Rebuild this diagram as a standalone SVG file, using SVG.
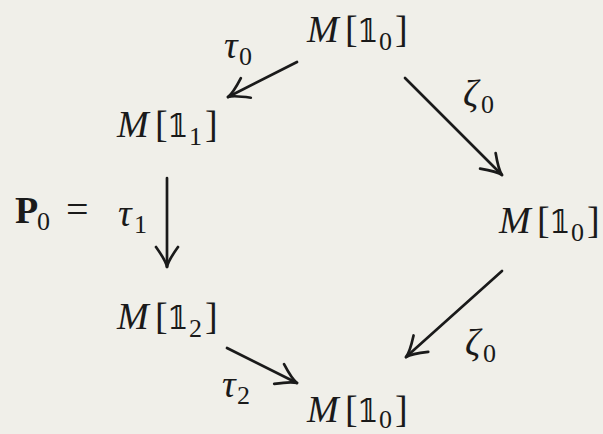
<svg xmlns="http://www.w3.org/2000/svg" width="603" height="434" viewBox="0 0 603 434">
<style>
.t{font-family:"Liberation Serif","Times New Roman","DejaVu Serif",serif;font-size:38px;fill:#1a1a1a}
.i{font-style:italic}
.ds{font-family:"DejaVu Serif","DejaVu Sans",serif;font-size:31px}
.s{font-size:26px}
.ln{stroke:#1a1a1a;stroke-width:2.7;fill:none;stroke-linecap:round}
</style>
<defs>
<marker id="ah" markerUnits="userSpaceOnUse" orient="auto" markerWidth="30" markerHeight="30" refX="0" refY="0" viewBox="-24 -15 30 30" overflow="visible">
<path d="M-20,-11 Q-6,-1 0,0 Q-6,1 -20,11" fill="none" stroke="#1a1a1a" stroke-width="2.7" stroke-linecap="round" stroke-linejoin="round"/>
</marker>
</defs>
<rect width="603" height="434" fill="#f0efe9"/>
<g id="connectors">
<line class="ln" x1="297" y1="62" x2="228" y2="97" marker-end="url(#ah)"/>
<line class="ln" x1="405" y1="78" x2="502" y2="175" marker-end="url(#ah)"/>
<line class="ln" x1="167" y1="178" x2="167" y2="267" marker-end="url(#ah)"/>
<line class="ln" x1="227" y1="348" x2="297" y2="383" marker-end="url(#ah)"/>
<line class="ln" x1="502" y1="271" x2="406" y2="357" marker-end="url(#ah)"/>
</g>
<g id="labels">
<text class="t"><tspan class="i" x="224" y="58">τ</tspan><tspan class="s" x="239" y="65">0</tspan></text>
<text class="t"><tspan class="i" x="118" y="226">τ</tspan><tspan class="s" x="134" y="233">1</tspan></text>
<text class="t"><tspan class="i" x="222" y="397">τ</tspan><tspan class="s" x="237" y="404">2</tspan></text>
<text class="t"><tspan class="i" x="463" y="106">ζ</tspan><tspan class="s" x="481" y="113">0</tspan></text>
<text class="t"><tspan class="i" x="465" y="355">ζ</tspan><tspan class="s" x="483" y="362">0</tspan></text>
</g>
<g id="p0">
<text class="t"><tspan font-weight="bold" x="15" y="223">P</tspan><tspan class="s" x="37" y="230">0</tspan><tspan x="66" y="223" font-size="40">=</tspan></text>
</g>
<g id="n-top">
<text class="t"><tspan class="i" x="307" y="42">M</tspan><tspan x="345" y="42">[</tspan><tspan class="ds" x="357" y="42">𝟙</tspan><tspan class="s" x="379" y="50">0</tspan><tspan x="395" y="42">]</tspan></text>
</g>
<g id="n-left1">
<text class="t"><tspan class="i" x="117" y="137">M</tspan><tspan x="155" y="137">[</tspan><tspan class="ds" x="167" y="137">𝟙</tspan><tspan class="s" x="189" y="145">1</tspan><tspan x="205" y="137">]</tspan></text>
</g>
<g id="n-right">
<text class="t"><tspan class="i" x="499" y="233">M</tspan><tspan x="537" y="233">[</tspan><tspan class="ds" x="549" y="233">𝟙</tspan><tspan class="s" x="571" y="241">0</tspan><tspan x="587" y="233">]</tspan></text>
</g>
<g id="n-left2">
<text class="t"><tspan class="i" x="117" y="329">M</tspan><tspan x="155" y="329">[</tspan><tspan class="ds" x="167" y="329">𝟙</tspan><tspan class="s" x="189" y="337">2</tspan><tspan x="205" y="329">]</tspan></text>
</g>
<g id="n-bottom">
<text class="t"><tspan class="i" x="307" y="422">M</tspan><tspan x="345" y="422">[</tspan><tspan class="ds" x="357" y="422">𝟙</tspan><tspan class="s" x="379" y="428">0</tspan><tspan x="395" y="422">]</tspan></text>
</g>
</svg>
